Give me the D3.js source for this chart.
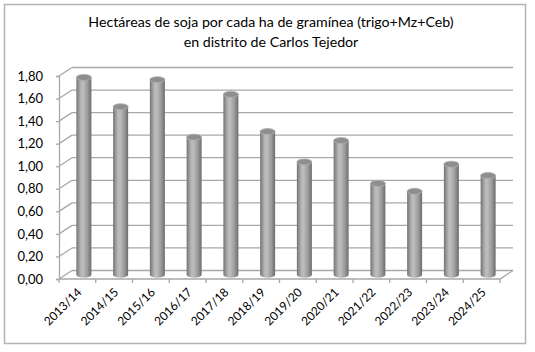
<!DOCTYPE html>
<meta charset="utf-8">
<style>
body{
  margin: 0;
  background: #fff;
}
svg{
  display: block;
  background-color: #fff;
}
text{
  font-family: Lato, "Liberation Sans", sans-serif;
  fill: #000;
}
</style>

<svg width="535" height="352"></svg>
<script src="https://d3js.org/d3.v7.min.js"></script>
<script>

var campaigns = ["2013/14", "2014/15", "2015/16", "2016/17", "2017/18", "2018/19",
                 "2019/20", "2020/21", "2021/22", "2022/23", "2023/24", "2024/25"];
var ratio = [1.75, 1.49, 1.73, 1.22, 1.60, 1.27, 1.00, 1.19, 0.81, 0.74, 0.98, 0.88];
var yTicks = [0, 0.2, 0.4, 0.6, 0.8, 1.0, 1.2, 1.4, 1.6, 1.8];
var titleLines = ["Hectáreas de soja por cada ha de gramínea (trigo+Mz+Ceb)",
                  "en distrito de Carlos Tejedor"];

var svg = d3.select("svg");

// depth of the 3d box (front plane -> back wall)
var depthX = 13, depthY = -8.5;

var x = d3.scaleBand()
    .domain(campaigns)
    .range([59, 500]);

var y = d3.scaleLinear()
    .domain([0, 1.8])
    .range([279, 76]);

var fmt = d3.formatLocale({decimal: ",", thousands: ".", grouping: [3], currency: ["$", ""]}).format(".2f");

// outer frame
svg.append("rect")
    .attr("x", 4.5).attr("y", 4.5)
    .attr("width", 521).attr("height", 339)
    .attr("fill", "#fff")
    .attr("stroke", "#b4b4b4")
    .attr("stroke-width", 1.5);

// title
svg.append("g").selectAll("text")
    .data(titleLines)
  .enter().append("text")
    .attr("x", 271)
    .attr("y", function(d, i) { return 27 + i * 20; })
    .attr("text-anchor", "middle")
    .style("font-size", "14.2px")
    .text(function(d) { return d; });

var grid = svg.append("g")
    .attr("stroke", "#a8a8a8")
    .attr("stroke-width", 1.3)
    .attr("fill", "none");

// back wall gridlines
grid.selectAll(".back")
    .data(yTicks)
  .enter().append("line")
    .attr("x1", x.range()[0] + depthX)
    .attr("x2", x.range()[1] + depthX)
    .attr("y1", function(d) { return y(d) + depthY; })
    .attr("y2", function(d) { return y(d) + depthY; });

// side wall diagonals
grid.selectAll(".side")
    .data(yTicks)
  .enter().append("line")
    .attr("x1", x.range()[0])
    .attr("x2", x.range()[0] + depthX)
    .attr("y1", function(d) { return y(d); })
    .attr("y2", function(d) { return y(d) + depthY; });

// floor
grid.append("path")
    .attr("d", "M" + x.range()[0] + "," + y(0) +
               "L" + x.range()[1] + "," + y(0) +
               "L" + (x.range()[1] + depthX) + "," + (y(0) + depthY));

// y axis
var yAxis = svg.append("g")
    .attr("transform", "translate(" + x.range()[0] + ",0)")
    .call(d3.axisLeft(y).tickValues(yTicks).tickFormat(fmt).tickSize(3).tickPadding(13));
yAxis.select(".domain").attr("stroke", "#a8a8a8").attr("stroke-width", 1.3);
yAxis.selectAll(".tick line").attr("stroke", "#a8a8a8").attr("stroke-width", 1.3);
yAxis.selectAll("text").style("font-size", "13px").style("font-family", "Lato, sans-serif").attr("fill", "#000");

// category ticks on the floor
svg.append("g")
    .attr("stroke", "#a8a8a8")
    .attr("stroke-width", 1.3)
  .selectAll("line")
    .data(campaigns.concat(["end"]))
  .enter().append("line")
    .attr("x1", function(d, i) { return x.range()[0] + i * x.step(); })
    .attr("x2", function(d, i) { return x.range()[0] + i * x.step(); })
    .attr("y1", y(0))
    .attr("y2", y(0) + 4);

// x labels
svg.append("g").selectAll("text")
    .data(campaigns)
  .enter().append("text")
    .attr("transform", function(d) {
      return "translate(" + (x(d) + x.bandwidth() / 2 + 5) + "," + 293 + ") rotate(-45)";
    })
    .attr("text-anchor", "end")
    .style("font-size", "12px")
    .text(function(d) { return d; });

// cylinder shading
var defs = svg.append("defs");
var grad = defs.append("linearGradient")
    .attr("id", "cyl")
    .attr("x1", "0").attr("x2", "1").attr("y1", "0").attr("y2", "0");
[["0%", "#737373"], ["30%", "#b6b6b6"], ["45%", "#bdbdbd"], ["75%", "#9a9a9a"], ["100%", "#6c6c6c"]]
  .forEach(function(s) { grad.append("stop").attr("offset", s[0]).attr("stop-color", s[1]); });

var barW = 15, ry = 3;
var bars = svg.append("g").selectAll("g")
    .data(campaigns)
  .enter().append("g")
    .attr("transform", function(d) {
      return "translate(" + (x(d) + x.bandwidth() / 2 + depthX / 2) + "," + (depthY / 2) + ")";
    });

bars.append("path")
    .attr("fill", "url(#cyl)")
    .attr("d", function(d, i) {
      var top = y(ratio[i]), bot = y(0), r = barW / 2;
      return "M" + (-r) + "," + top +
             "L" + (-r) + "," + bot +
             "A" + r + "," + ry + " 0 0 0 " + r + "," + bot +
             "L" + r + "," + top + "Z";
    });

bars.append("ellipse")
    .attr("cx", 0)
    .attr("cy", function(d, i) { return y(ratio[i]); })
    .attr("rx", barW / 2)
    .attr("ry", ry)
    .attr("fill", "#8e8e8e")
    .attr("stroke", "#b0b0b0")
    .attr("stroke-width", 0.8);

</script>
